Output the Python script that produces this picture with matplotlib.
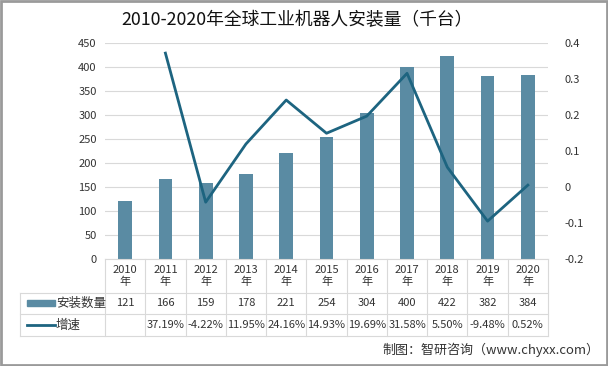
import numpy as np
import matplotlib
matplotlib.use("Agg")
import matplotlib.pyplot as plt
from matplotlib.patches import Rectangle
from matplotlib.lines import Line2D

plt.rcParams['font.family'] = ['Noto Sans CJK SC', 'DejaVu Sans']

years = ["2010", "2011", "2012", "2013", "2014", "2015", "2016", "2017", "2018", "2019", "2020"]
installs = [121, 166, 159, 178, 221, 254, 304, 400, 422, 382, 384]
growth = [None, 0.3719, -0.0422, 0.1195, 0.2416, 0.1493, 0.1969, 0.3158, 0.0550, -0.0948, 0.0052]
growth_labels = ["", "37.19%", "-4.22%", "11.95%", "24.16%", "14.93%", "19.69%", "31.58%", "5.50%", "-9.48%", "0.52%"]

bar_color = "#5A8BA3"
line_color = "#1D6480"
grid_color = "#D9D9D9"
text_color = "#333333"

W, H = 608, 366
fig = plt.figure(figsize=(W / 100, H / 100), dpi=100)

# plot area in pixels
left, right, top, bottom = 105, 548, 43, 259
ax = fig.add_axes([left / W, 1 - bottom / H, (right - left) / W, (bottom - top) / H])
x = np.arange(len(years))
ax.bar(x, installs, width=0.34, color=bar_color, zorder=2)
ax.set_xlim(-0.5, len(years) - 0.5)
ax.set_ylim(0, 450)
ax.set_yticks(np.arange(0, 451, 50))
ax.yaxis.grid(True, color=grid_color, lw=0.8, zorder=0)
ax.set_axisbelow(True)
for s in ["top", "right", "left"]:
    ax.spines[s].set_visible(False)
ax.spines["bottom"].set_color(grid_color)
ax.tick_params(axis="y", length=0, labelsize=8, colors=text_color, pad=6)
ax.set_xticks([])

ax2 = ax.twinx()
gx = [i for i, g in enumerate(growth) if g is not None]
gy = [g for g in growth if g is not None]
ax2.plot(gx, gy, color=line_color, lw=2, zorder=3)
ax2.set_ylim(-0.2, 0.4)
ax2.set_yticks(np.arange(-0.2, 0.41, 0.1))
ax2.set_yticklabels(["-0.2", "-0.1", "0", "0.1", "0.2", "0.3", "0.4"])
for s in ["top", "right", "left", "bottom"]:
    ax2.spines[s].set_visible(False)
ax2.tick_params(axis="y", length=0, labelsize=8, colors=text_color, pad=12)

# data table under the chart
col_w = (right - left) / len(years)
row_y = [259, 293, 314, 336]
tab_left = 20

def fx(px):
    return px / W

def fy(py):
    return 1 - py / H

# vertical lines
for i in range(len(years) + 1):
    xp = left + i * col_w
    fig.add_artist(Line2D([fx(xp), fx(xp)], [fy(row_y[0]), fy(row_y[3])], color=grid_color, lw=0.8))
fig.add_artist(Line2D([fx(tab_left), fx(tab_left)], [fy(row_y[1]), fy(row_y[3])], color=grid_color, lw=0.8))
for yp in row_y[1:]:
    fig.add_artist(Line2D([fx(tab_left), fx(right)], [fy(yp), fy(yp)], color=grid_color, lw=0.8))

for i, yr in enumerate(years):
    cx = left + (i + 0.5) * col_w
    fig.text(fx(cx), fy(276), yr + "\n年", ha="center", va="center", fontsize=8, color=text_color, linespacing=1.3)
    fig.text(fx(cx), fy(303), str(installs[i]), ha="center", va="center", fontsize=8, color=text_color)
    fig.text(fx(cx), fy(325), growth_labels[i], ha="center", va="center", fontsize=8, color=text_color)

# legend keys in the table
fig.add_artist(Rectangle((fx(27), fy(306)), fx(55) - fx(27), fy(300) - fy(306), color=bar_color))
fig.text(fx(56), fy(303), "安装数量", ha="left", va="center", fontsize=9, color=text_color)
fig.add_artist(Line2D([fx(27), fx(55)], [fy(325), fy(325)], color=line_color, lw=2))
fig.text(fx(56), fy(325), "增速", ha="left", va="center", fontsize=9, color=text_color)

fig.text(fx(297), fy(20), "2010-2020年全球工业机器人安装量（千台）", ha="center", va="center", fontsize=12.8, color="#111111")
fig.text(fx(599), fy(350), "制图：智研咨询（www.chyxx.com）", ha="right", va="center", fontsize=9.4, color=text_color)

fig.add_artist(Rectangle((0.002, 0.003), 0.996, 0.994, fill=False, edgecolor="#9A9A9A", lw=2))

fig.savefig("out.png", dpi=100)
